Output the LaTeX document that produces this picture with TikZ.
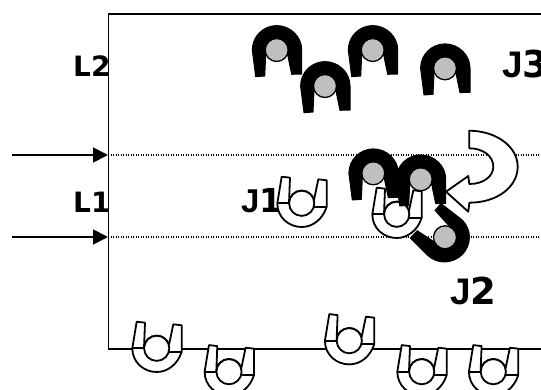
\documentclass[tikz,border=0pt]{standalone}
\usepackage{fontspec}
\setmainfont{DejaVu Sans}
\newfontfamily\jfont{Liberation Sans}
\usetikzlibrary{arrows.meta}
\tikzset{
  frameline/.style={line width=1.9pt,black},
  levelline/.style={line width=1.2pt,black,dash pattern=on 1.2pt off 1.3pt},
  inarrow/.style={line width=1.8pt,black,-{Triangle[length=15pt,width=15pt]}},
  whitepart/.style={draw=black,fill=white,line width=1.8pt,line join=round},
  blackpart/.style={draw=black,fill=black,line width=1pt,line join=round},
  headdisk/.style={draw=black,fill=black!25,line width=1.3pt},
  lab/.style={font=\bfseries\fontsize{28}{28}\selectfont,inner sep=0pt,anchor=base west},
  jlab/.style={font=\bfseries\fontsize{37}{37}\selectfont,inner sep=0pt,anchor=base west},
  jlabsmall/.style={font=\bfseries\fontsize{33}{33}\selectfont,inner sep=0pt,anchor=base west}
}
\newcommand{\whitejoint}[2]{%
  \begin{scope}[shift={(#1,#2)}]
    \draw[whitepart] (-20,-26.6) -- (-11.7,-25.6) -- (-12.7,0) arc[start angle=180,end angle=345,radius=12.7]
      -- (16.6,-24) -- (25,-23) -- (25,3.4) .. controls (21,16) and (11,23.7) .. (0,23.7)
      .. controls (-13,23.7) and (-24.4,14) .. (-24.4,0) -- cycle;
    \draw[whitepart] (-24.4,0) -- (-12.7,0) (25,3.4) -- (12.6,3.4);
    \draw[whitepart] (0,0) circle[radius=12.6];
  \end{scope}}
\newcommand{\blackjoint}[3]{%
  \begin{scope}[shift={(#1,#2)},rotate=#3]
    \draw[blackpart] (-21,26.7) -- (-24.4,0) .. controls (-24.4,-14) and (-13,-24.4) .. (0,-24.4)
      .. controls (13,-24.4) and (25,-14) .. (25,0) -- (25,24) -- (15,24.3) -- (11,5) -- (-11,5) -- (-12,26) -- cycle;
    \draw[headdisk] (0,0) circle[radius=11.5];
  \end{scope}}
\begin{document}
\begin{tikzpicture}[x=1pt,y=-1pt]
  \useasboundingbox (0,0) rectangle (541,390);
  \coordinate (tl) at (108.5,14);
  \coordinate (tr) at (560,14);
  \coordinate (bl) at (108.5,349);
  \coordinate (br) at (560,349);
  \coordinate (a1) at (12,155);
  \coordinate (a1e) at (108,155);
  \coordinate (a2) at (12,237);
  \coordinate (a2e) at (108,237);
  \coordinate (d1) at (560,155);
  \coordinate (d2) at (560,237);
  \node[lab] (l2) at (73,77) {L2};
  \node[lab] (l1) at (73,213) {L1};
  \node[jlabsmall] (j1) at (241,213) {{\jfont J}1};
  \node[jlab] (j2) at (450,305) {{\jfont J}2};
  \node[jlab] (j3) at (502,78) {{\jfont J}3};
  \draw[levelline] (a1e) -- (d1);
  \draw[levelline] (a2e) -- (d2);
  \draw[frameline] (tr) -- (tl) -- (bl) -- (br);
  \draw[inarrow] (a1) -- (a1e);
  \draw[inarrow] (a2) -- (a2e);
  \blackjoint{276.7}{50}{0}
  \blackjoint{325}{86}{0}
  \blackjoint{372.7}{50}{0}
  \blackjoint{445}{68.3}{0}
  \blackjoint{445}{237.3}{-135}
  \blackjoint{373.3}{173.3}{0}
  \whitejoint{396.7}{214.3}
  \blackjoint{420.7}{179.3}{0}
  \whitejoint{301.7}{203.3}
  \whitejoint{156.7}{348.3}
  \whitejoint{229}{371.7}
  \whitejoint{349.3}{340.7}
  \whitejoint{421.7}{371.7}
  \whitejoint{493.3}{371.7}
  \draw[whitepart] (446,191.7) -- (468.3,176) -- (469.3,184)
    .. controls (484,184) and (493.3,176) .. (493.3,166.7)
    .. controls (493.3,156) and (483,148.3) .. (469.3,148.3)
    -- (469.3,130.7)
    .. controls (497,131) and (517.7,147) .. (517.7,166.7)
    .. controls (517.7,187) and (497,202.7) .. (469.3,202.7)
    -- (468.3,211.7) -- cycle;
\end{tikzpicture}
\end{document}
